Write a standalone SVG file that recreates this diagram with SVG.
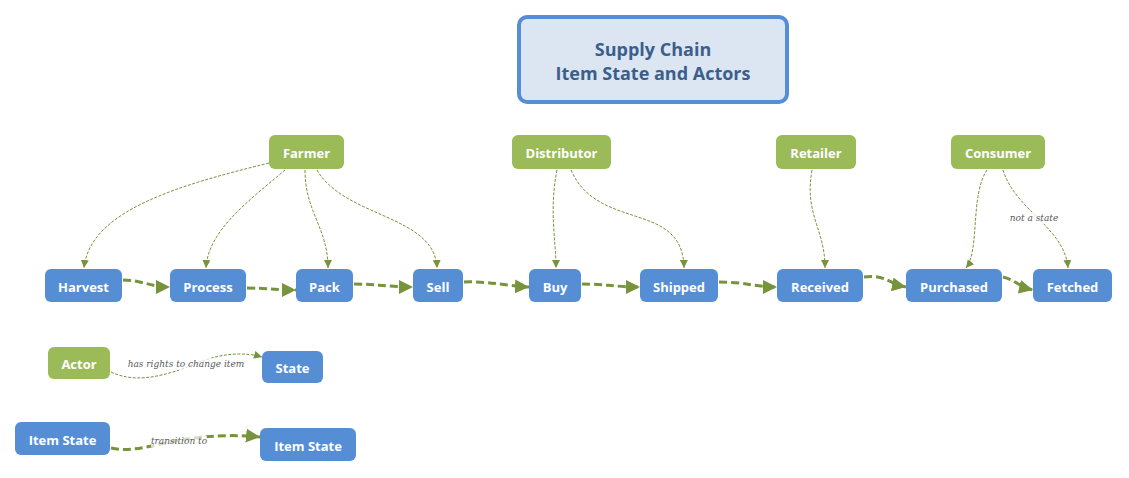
<svg xmlns="http://www.w3.org/2000/svg" width="1129" height="478" viewBox="0 0 1129 478">
<style>
.actor rect{fill:#9BBB59;}
.state rect{fill:#558ED5;}
.lbl{font-family:"Open Sans","Liberation Sans",sans-serif;font-weight:bold;font-size:13px;fill:#fff;text-anchor:middle;dominant-baseline:central;}
.thick{fill:none;stroke:#77933C;stroke-width:3;stroke-dasharray:8 4;}
.thin{fill:none;stroke:#77933C;stroke-width:1;stroke-dasharray:3 1.5;}
.elbl{font-family:"DejaVu Serif","Liberation Serif",serif;font-style:italic;font-size:9px;fill:#595959;text-anchor:middle;}
.lbg{fill:#fff;opacity:0.7;}
</style>
<defs>
<marker id="big" markerUnits="userSpaceOnUse" markerWidth="16" markerHeight="14" refX="14" refY="7" orient="auto"><path d="M0,0 L14,7 L0,14 Z" fill="#77933C"/></marker>
<marker id="small" markerUnits="userSpaceOnUse" markerWidth="10" markerHeight="8" refX="8" refY="4" orient="auto"><path d="M0,0 L8,4 L0,8 Z" fill="#77933C"/></marker>
</defs>
<rect width="1129" height="478" fill="#fff"/>
<g id="title">
<rect x="519" y="17" width="268" height="85" rx="8" fill="#DCE6F2" stroke="#558ED5" stroke-width="4"/>
<text x="653" y="49" font-family="Open Sans, Liberation Sans, sans-serif" font-weight="bold" font-size="18" fill="#3B5E8C" text-anchor="middle" dominant-baseline="central">Supply Chain</text>
<text x="653" y="73" font-family="Open Sans, Liberation Sans, sans-serif" font-weight="bold" font-size="18" fill="#3B5E8C" text-anchor="middle" dominant-baseline="central">Item State and Actors</text>
</g>
<g id="connectors">
<path class="thin" d="M269,163 C180,185 90,210 84,268" marker-end="url(#small)"/>
<path class="thin" d="M285,170 C250,200 208,230 206,268" marker-end="url(#small)"/>
<path class="thin" d="M305,170 C305,212 328,228 328,268" marker-end="url(#small)"/>
<path class="thin" d="M317,170 C345,218 435,215 437,268" marker-end="url(#small)"/>
<path class="thin" d="M557,170 C549,210 556,240 556,268" marker-end="url(#small)"/>
<path class="thin" d="M571,170 C598,232 683,200 684,268" marker-end="url(#small)"/>
<path class="thin" d="M812,170 C804,215 825,228 825,268" marker-end="url(#small)"/>
<path class="thin" d="M987,170 C970,195 980,250 966,268" marker-end="url(#small)"/>
<path class="thin" d="M1003,170 C1015,210 1065,228 1068,268" marker-end="url(#small)"/>
<rect class="lbg" x="1011" y="212" width="46" height="12"/>
<text class="elbl" x="1034" y="221">not a state</text>
<path class="thin" d="M111,372 C140,386 175,372 200,362 C222,353 245,352 262,357" marker-end="url(#small)"/>
<rect class="lbg" x="129" y="358" width="114" height="12"/>
<text class="elbl" x="186" y="367">has rights to change item</text>
<path class="thick" d="M123,280 C142,280 150,287 170,287" marker-end="url(#big)"/>
<path class="thick" d="M247,288 C265,288 275,290 296,290" marker-end="url(#big)"/>
<path class="thick" d="M354,284 C375,284 390,287 413,287" marker-end="url(#big)"/>
<path class="thick" d="M464,282 C490,281 505,286 529,287" marker-end="url(#big)"/>
<path class="thick" d="M582,284 C605,284 615,287 640,287" marker-end="url(#big)"/>
<path class="thick" d="M719,282 C745,282 755,287 777,287" marker-end="url(#big)"/>
<path class="thick" d="M864,277 C885,274 890,284 906,287" marker-end="url(#big)"/>
<path class="thick" d="M1003,277 C1015,280 1020,287 1033,290" marker-end="url(#big)"/>
<path class="thick" d="M111,448 C130,452 145,447 170,442 C200,436 230,434 260,437" marker-end="url(#big)"/>
<rect class="lbg" x="151" y="436" width="56" height="11"/>
<text class="elbl" x="179" y="444">transition to</text>
</g>
<g id="farmer" class="actor"><rect x="269" y="135" width="75" height="34" rx="6"/><text class="lbl" x="306.5" y="153">Farmer</text></g>
<g id="distributor" class="actor"><rect x="512" y="135" width="99" height="34" rx="6"/><text class="lbl" x="561.5" y="153">Distributor</text></g>
<g id="retailer" class="actor"><rect x="776" y="135" width="80" height="34" rx="6"/><text class="lbl" x="816" y="153">Retailer</text></g>
<g id="consumer" class="actor"><rect x="951" y="135" width="94" height="34" rx="6"/><text class="lbl" x="998" y="153">Consumer</text></g>
<g id="harvest" class="state"><rect x="45" y="269" width="77" height="33" rx="6"/><text class="lbl" x="83.5" y="286.5">Harvest</text></g>
<g id="process" class="state"><rect x="170" y="269" width="76" height="33" rx="6"/><text class="lbl" x="208" y="286.5">Process</text></g>
<g id="pack" class="state"><rect x="296" y="269" width="57" height="33" rx="6"/><text class="lbl" x="324.5" y="286.5">Pack</text></g>
<g id="sell" class="state"><rect x="413" y="269" width="50" height="33" rx="6"/><text class="lbl" x="438" y="286.5">Sell</text></g>
<g id="buy" class="state"><rect x="529" y="269" width="52" height="33" rx="6"/><text class="lbl" x="555" y="286.5">Buy</text></g>
<g id="shipped" class="state"><rect x="640" y="269" width="78" height="33" rx="6"/><text class="lbl" x="679" y="286.5">Shipped</text></g>
<g id="received" class="state"><rect x="777" y="269" width="86" height="33" rx="6"/><text class="lbl" x="820" y="286.5">Received</text></g>
<g id="purchased" class="state"><rect x="906" y="269" width="96" height="33" rx="6"/><text class="lbl" x="954" y="286.5">Purchased</text></g>
<g id="fetched" class="state"><rect x="1033" y="269" width="79" height="33" rx="6"/><text class="lbl" x="1072.5" y="286.5">Fetched</text></g>
<g id="legend-actor" class="actor"><rect x="48" y="347" width="62" height="32" rx="6"/><text class="lbl" x="79" y="364">Actor</text></g>
<g id="legend-state" class="state"><rect x="262" y="351" width="61" height="32" rx="6"/><text class="lbl" x="292.5" y="368">State</text></g>
<g id="legend-item1" class="state"><rect x="15" y="422" width="95" height="33" rx="6"/><text class="lbl" x="62.5" y="439.5">Item State</text></g>
<g id="legend-item2" class="state"><rect x="260" y="428" width="96" height="33" rx="6"/><text class="lbl" x="308" y="445.5">Item State</text></g>
</svg>
